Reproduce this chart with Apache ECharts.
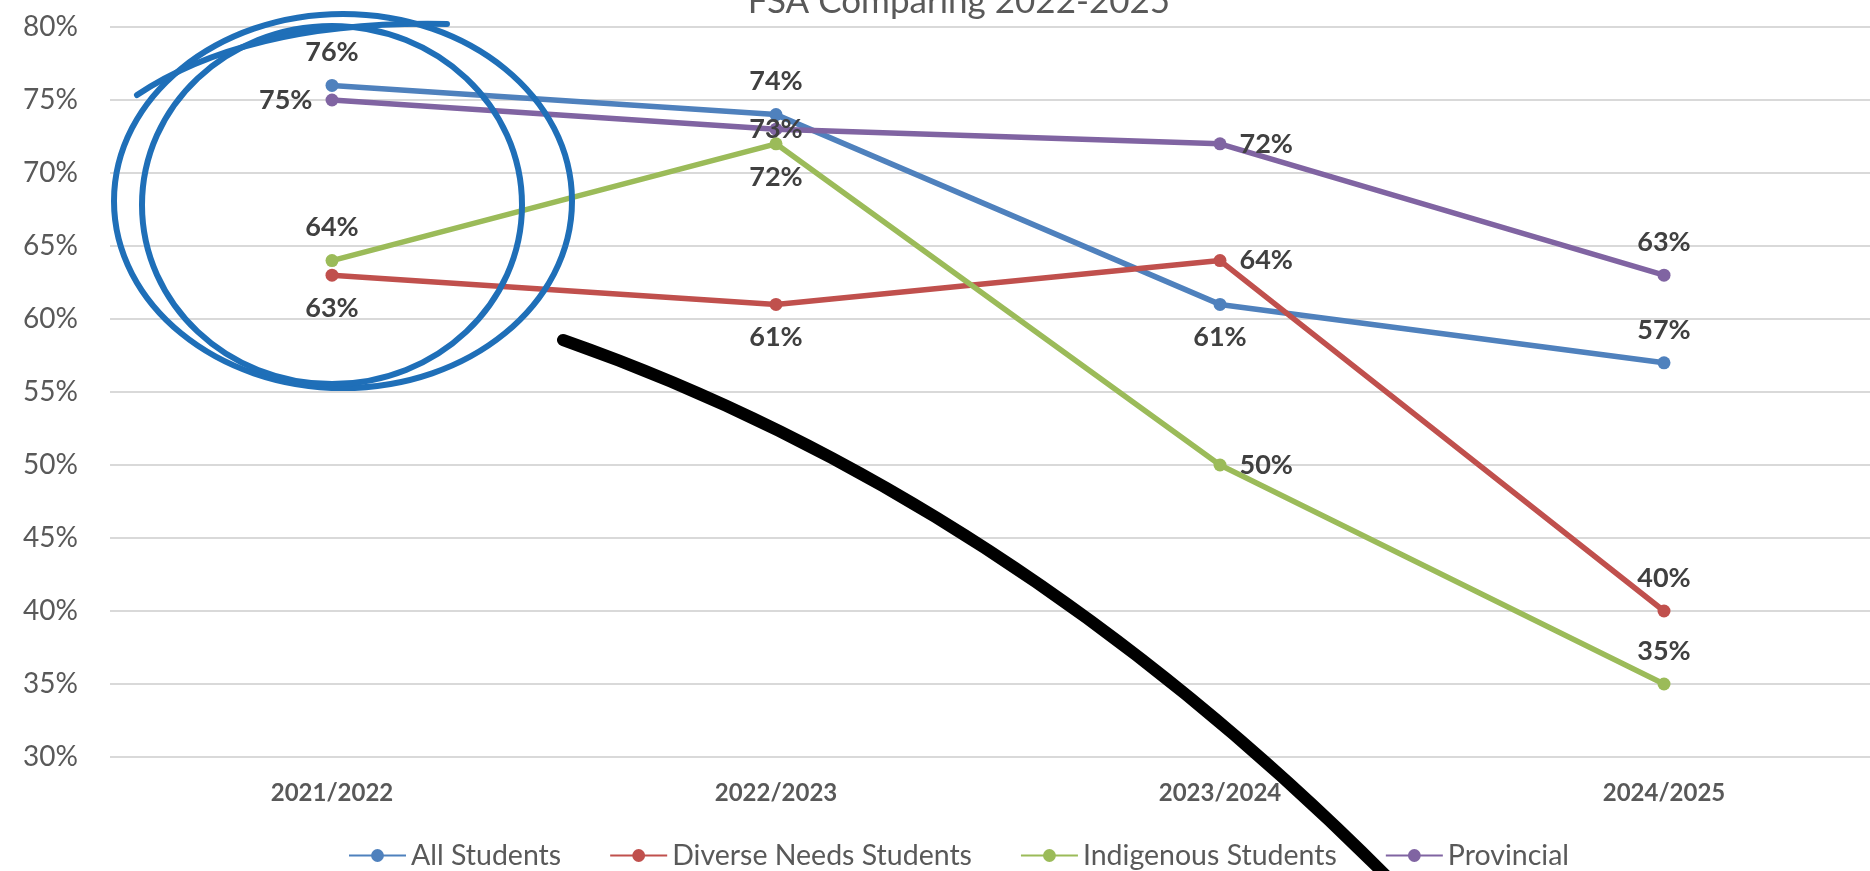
<!DOCTYPE html>
<html>
<head>
<meta charset="utf-8">
<title>FSA Comparing 2022-2025</title>
<script src="https://cdn.jsdelivr.net/npm/echarts@6/dist/echarts.min.js"></script>
<style>
  html, body { margin: 0; padding: 0; background: #fff; overflow: hidden; }
  /* plot runs a little past the right edge, like the cropped screenshot */
  #chart { width: 1886px; height: 871px; }
</style>
</head>
<body>
<div id="chart"></div>
<script>
  // data (percent)
  const years = ['2021/2022', '2022/2023', '2023/2024', '2024/2025'];
  const allStudents = [76, 74, 61, 57];
  const diverseNeeds = [63, 61, 64, 40];
  const indigenous = [64, 72, 50, 35];
  const provincial = [75, 73, 72, 63];
  const yTicks = [30, 35, 40, 45, 50, 55, 60, 65, 70, 75, 80];

  const chart = echarts.init(document.getElementById('chart'));
  const font = 'Lato, "Open Sans", sans-serif';

  // where each value label sits, like the excel chart
  function withLabels(values, positions) {
    return values.map((v, i) => ({
      value: v,
      label: { position: positions[i] }
    }));
  }

  function lineSeries(name, color, values, positions) {
    return {
      name: name,
      type: 'line',
      symbol: 'circle',
      symbolSize: 13,
      lineStyle: { width: 5.5, color: color },
      itemStyle: { color: color },
      label: {
        show: true,
        formatter: '{c}%',
        fontFamily: font,
        fontSize: 27,
        fontWeight: 'bold',
        color: '#404040',
        distance: 13
      },
      data: withLabels(values, positions)
    };
  }

  const option = {
    animation: false,
    title: {
      text: 'FSA Comparing 2022-2025',
      left: 954,
      textAlign: 'center',
      top: -21,
      textStyle: { fontFamily: font, fontSize: 35, fontWeight: 'normal', color: '#595959' }
    },
    legend: {
      left: 343,
      top: 836,
      itemWidth: 57,
      itemHeight: 16,
      itemGap: 48,
      textStyle: { fontFamily: font, fontSize: 28.5, color: '#595959' }
    },
    grid: {
      left: 110,
      right: 0,
      top: 27,
      bottom: 114,
      containLabel: false
    },
    xAxis: {
      type: 'category',
      data: years,
      boundaryGap: true,
      axisLine: { show: false },
      axisTick: { show: false },
      axisLabel: {
        margin: 24,
        fontFamily: font,
        fontSize: 24,
        fontWeight: 'bold',
        color: '#595959'
      }
    },
    yAxis: {
      type: 'value',
      min: yTicks[0],
      max: yTicks[yTicks.length - 1],
      interval: yTicks[1] - yTicks[0],
      axisLine: { show: false },
      axisTick: { show: false },
      axisLabel: {
        margin: 32,
        formatter: '{value}%',
        fontFamily: font,
        fontSize: 28,
        color: '#595959'
      },
      splitLine: { lineStyle: { color: '#d9d9d9', width: 2 } }
    },
    series: [
      lineSeries('All Students', '#4f81bd', allStudents, ['top', 'top', 'bottom', 'top']),
      lineSeries('Diverse Needs Students', '#c0504d', diverseNeeds, ['bottom', 'bottom', 'right', 'top']),
      lineSeries('Indigenous Students', '#9bbb59', indigenous, ['top', 'bottom', 'right', 'top']),
      lineSeries('Provincial', '#8064a2', provincial, ['left', 'inside', 'right', 'top'])
    ],
    // hand drawn markup on top of the screenshot
    graphic: [
      {
        type: 'ellipse',
        z: 100,
        shape: { cx: 343, cy: 201, rx: 229, ry: 187 },
        style: { fill: 'none', stroke: '#1f6fb8', lineWidth: 6 }
      },
      {
        type: 'ellipse',
        z: 100,
        shape: { cx: 332, cy: 205, rx: 190, ry: 179 },
        style: { fill: 'none', stroke: '#1f6fb8', lineWidth: 6 }
      },
      {
        type: 'bezierCurve',
        z: 100,
        shape: { x1: 137, y1: 95, cpx1: 250, cpy1: 20, x2: 447, y2: 24 },
        style: { fill: 'none', stroke: '#1f6fb8', lineWidth: 6, lineCap: 'round' }
      },
      {
        type: 'bezierCurve',
        z: 100,
        shape: { x1: 563, y1: 340, cpx1: 1020, cpy1: 500, x2: 1410, y2: 900 },
        style: { fill: 'none', stroke: '#000', lineWidth: 12, lineCap: 'round' }
      }
    ]
  };

  chart.setOption(option);
</script>
</body>
</html>
